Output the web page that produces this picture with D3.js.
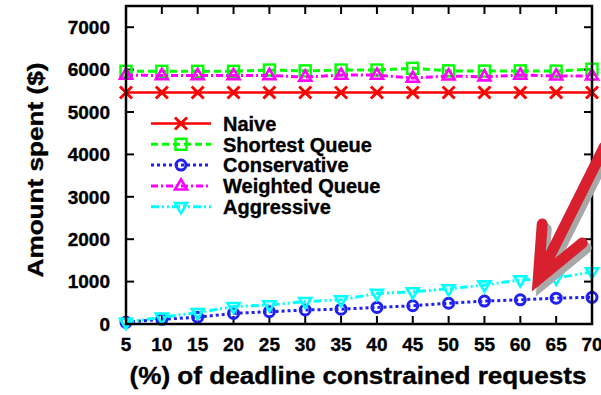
<!DOCTYPE html>
<html>
<head>
<meta charset="utf-8">
<script src="https://cdn.jsdelivr.net/npm/d3@7"></script>
<style>
  body { margin: 0; background: #fff; }
  svg { display: block; font-family: "Liberation Sans", Arial, sans-serif; font-weight: bold; }
  text { stroke: #000; stroke-width: 0.35px; }
</style>
</head>
<body>
<div id="chart"></div>
<script>
const xValues = [5, 10, 15, 20, 25, 30, 35, 40, 45, 50, 55, 60, 65, 70];
const naive = [5460, 5460, 5460, 5460, 5460, 5460, 5460, 5460, 5460, 5460, 5460, 5460, 5460, 5460];
const shortestQueue = [5960, 5960, 5960, 5960, 5990, 5970, 5990, 5990, 6030, 5970, 5965, 5970, 5965, 6010];
const conservative = [40, 110, 160, 250, 290, 330, 350, 390, 430, 490, 540, 570, 610, 630];
const weightedQueue = [5870, 5860, 5860, 5860, 5860, 5825, 5870, 5870, 5800, 5850, 5830, 5870, 5850, 5850];
const aggressive = [40, 160, 270, 410, 450, 530, 570, 720, 760, 830, 920, 1040, 1080, 1230];
const yTicks = [0, 1000, 2000, 3000, 4000, 5000, 6000, 7000];
const seriesNames = ['Naive', 'Shortest Queue', 'Conservative', 'Weighted Queue', 'Aggressive'];

const width = 601, height = 395;
const margin = { top: 6, right: 9, bottom: 71, left: 126 };

const svg = d3.select('#chart').append('svg')
  .attr('width', width)
  .attr('height', height);

const x = d3.scaleLinear().domain([5, 70]).range([margin.left, width - margin.right]);
const y = d3.scaleLinear().domain([0, 7500]).range([height - margin.bottom, margin.top]);

// marker shapes
const markers = {
  cross: (g, s) => g.append('path')
    .attr('d', `M${-s},${-s}L${s},${s}M${-s},${s}L${s},${-s}`)
    .attr('stroke-width', 3).attr('fill', 'none'),
  square: (g, s) => g.append('rect')
    .attr('x', -s).attr('y', -s).attr('width', 2 * s).attr('height', 2 * s)
    .attr('stroke-width', 2.4).attr('fill', 'none'),
  circle: (g, s) => g.append('circle')
    .attr('r', s).attr('stroke-width', 3).attr('fill', 'none'),
  triUp: (g, s) => g.append('path')
    .attr('d', `M0,${-s * 1.1}L${s},${s * 0.6}L${-s},${s * 0.6}Z`)
    .attr('stroke-width', 2.6).attr('fill', 'none'),
  triDown: (g, s) => g.append('path')
    .attr('d', `M0,${s * 1.1}L${s},${-s * 0.6}L${-s},${-s * 0.6}Z`)
    .attr('stroke-width', 2.6).attr('fill', 'none'),
};

const series = [
  { name: seriesNames[0], values: naive, color: '#ff0000', dash: null, marker: 'cross', size: 6 },
  { name: seriesNames[1], values: shortestQueue, color: '#00ff00', dash: '7,4', marker: 'square', size: 5.5 },
  { name: seriesNames[2], values: conservative, color: '#2020f0', dash: '3,3', marker: 'circle', size: 5 },
  { name: seriesNames[3], values: weightedQueue, color: '#ff00ff', dash: '7,3,2,3', marker: 'triUp', size: 6 },
  { name: seriesNames[4], values: aggressive, color: '#00ffff', dash: '8,3,2,3,2,3', marker: 'triDown', size: 6 },
];

// ticks (inside), mirrored on all four sides
const tickLen = 8;
const ticks = svg.append('g').attr('stroke', '#000').attr('stroke-width', 2);
yTicks.forEach(v => {
  ticks.append('line').attr('x1', x(5)).attr('x2', x(5) + tickLen).attr('y1', y(v)).attr('y2', y(v));
  ticks.append('line').attr('x1', x(70)).attr('x2', x(70) - tickLen).attr('y1', y(v)).attr('y2', y(v));
});
xValues.forEach(v => {
  ticks.append('line').attr('x1', x(v)).attr('x2', x(v)).attr('y1', y(0)).attr('y2', y(0) - tickLen);
  ticks.append('line').attr('x1', x(v)).attr('x2', x(v)).attr('y1', y(7500)).attr('y2', y(7500) + tickLen);
});

// tick labels
svg.append('g').selectAll('text').data(yTicks).join('text')
  .attr('x', 110).attr('y', d => y(d)).attr('dy', '0.36em')
  .attr('text-anchor', 'end').attr('font-size', 19)
  .text(d => d);

svg.append('g').selectAll('text').data(xValues).join('text')
  .attr('x', d => x(d)).attr('y', 351)
  .attr('text-anchor', 'middle').attr('font-size', 19)
  .text(d => d);

// axis titles
svg.append('text')
  .attr('x', 358).attr('y', 384)
  .attr('text-anchor', 'middle').attr('font-size', 24)
  .attr('textLength', 457).attr('lengthAdjust', 'spacingAndGlyphs')
  .text('(%) of deadline constrained requests');

svg.append('text')
  .attr('transform', 'translate(43,170) rotate(-90)')
  .attr('text-anchor', 'middle').attr('font-size', 22)
  .attr('textLength', 215).attr('lengthAdjust', 'spacingAndGlyphs')
  .text('Amount spent ($)');

// lines and points
const line = d3.line().x((d, i) => x(xValues[i])).y(d => y(d));
series.forEach(s => {
  svg.append('path')
    .datum(s.values)
    .attr('d', line)
    .attr('fill', 'none')
    .attr('stroke', s.color)
    .attr('stroke-width', s.dash ? 3 : 2.5)
    .attr('stroke-dasharray', s.dash);

  s.values.forEach((v, i) => {
    const g = svg.append('g')
      .attr('transform', `translate(${x(xValues[i])},${y(v)})`)
      .attr('stroke', s.color);
    markers[s.marker](g, s.size);
  });
});

// legend
const legend = svg.append('g');
series.forEach((s, i) => {
  const ly = 123.5 + i * 20.8;
  legend.append('line')
    .attr('x1', 151).attr('x2', 211).attr('y1', ly).attr('y2', ly)
    .attr('stroke', s.color)
    .attr('stroke-width', s.dash ? 3 : 2.5)
    .attr('stroke-dasharray', s.dash);
  const g = legend.append('g')
    .attr('transform', `translate(181,${ly})`)
    .attr('stroke', s.color);
  markers[s.marker](g, s.size);
  legend.append('text')
    .attr('x', 223).attr('y', ly).attr('dy', '0.36em')
    .attr('font-size', 20)
    .text(s.name);
});

// frame
svg.append('rect')
  .attr('x', x(5)).attr('y', y(7500))
  .attr('width', x(70) - x(5)).attr('height', y(0) - y(7500))
  .attr('fill', 'none').attr('stroke', '#000').attr('stroke-width', 2.5);

// red arrow annotation pointing at the aggressive curve
const tipX = x(62.5), tipY = y(1060);
const arrowPath = `M${tipX + 66},${tipY - 132}L${tipX},${tipY}` +
  `M${tipX + 4},${tipY - 55}L${tipX},${tipY}L${tipX + 44},${tipY - 36}`;
const arrow = svg.append('g').attr('fill', 'none')
  .attr('stroke-linecap', 'round').attr('stroke-linejoin', 'miter');
arrow.append('path')
  .attr('d', arrowPath)
  .attr('transform', 'translate(4,5)')
  .attr('stroke', '#a8a8a8').attr('stroke-width', 11);
arrow.append('path')
  .attr('d', arrowPath)
  .attr('stroke', '#d8202e').attr('stroke-width', 11);
</script>
</body>
</html>
